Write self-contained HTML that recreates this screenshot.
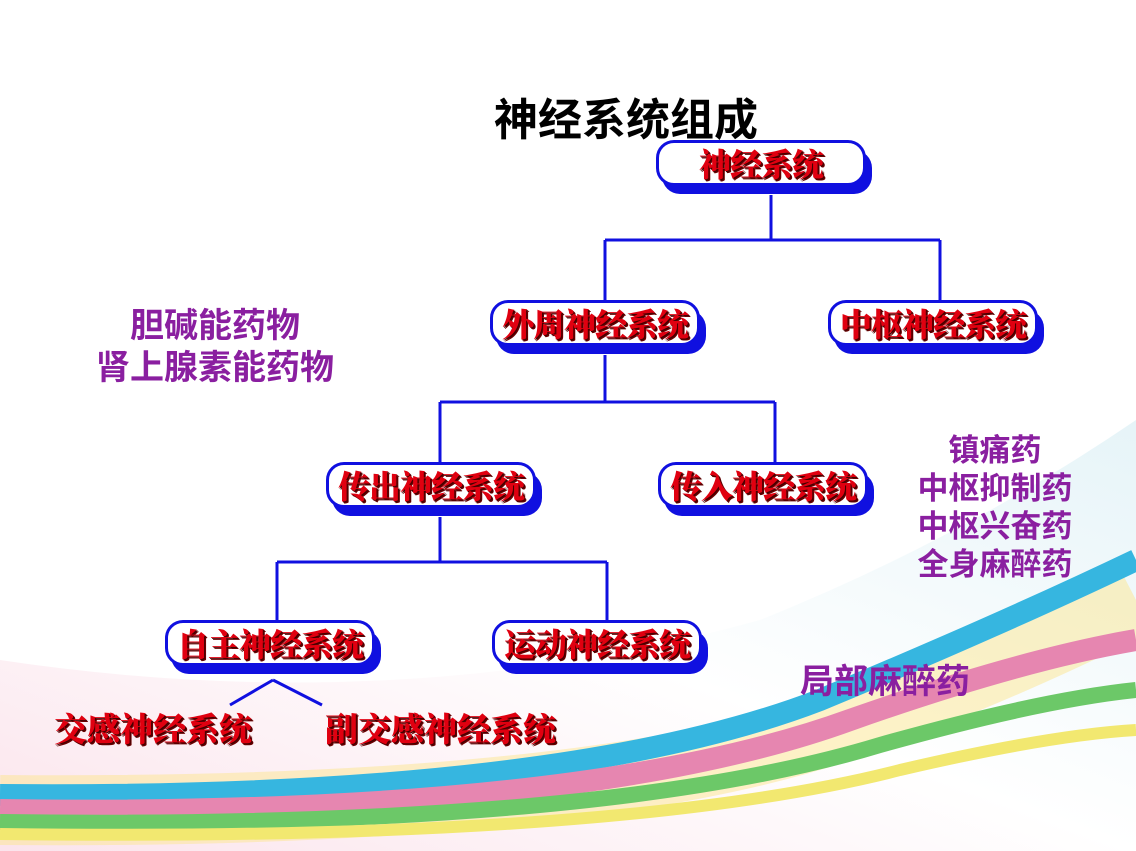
<!DOCTYPE html>
<html><head><meta charset="utf-8"><style>
body{margin:0;width:1136px;height:851px;overflow:hidden;background:#fff;position:relative;font-family:"Liberation Sans","Noto Sans CJK SC",sans-serif}
.bx{position:absolute;width:210px;height:44px}
.bx .sh{position:absolute;left:6px;top:10px;width:210px;height:44px;background:#1010e0;border-radius:18px}
.bx .fr{position:absolute;left:0;top:0;width:204px;height:40px;background:#fff;border:3px solid #1010e0;border-radius:18px;text-align:center;line-height:40px;font-family:"Noto Serif CJK SC",serif;font-weight:900;font-size:32px;letter-spacing:-1px;color:#e00010;text-shadow:1px 1px 0 #400,2px 2px 0 #600;white-space:nowrap}
.t{position:absolute;font-weight:bold;color:#8a1fa0;font-size:34px;text-align:center;line-height:42px;white-space:nowrap}
.r{position:absolute;font-family:"Noto Serif CJK SC",serif;font-weight:900;font-size:33px;color:#e00010;text-shadow:1px 1px 0 #400,2px 2px 0 #600;white-space:nowrap}
</style></head><body>
<svg width="1136" height="851" style="position:absolute;left:0;top:0">
<defs><linearGradient id="bg" x1="0" y1="1" x2="1" y2="0"><stop offset="0" stop-color="#fbe4ec"/><stop offset="0.5" stop-color="#fff"/><stop offset="1" stop-color="#e6f4f8"/></linearGradient></defs>
<path d="M0 660 Q400 720 760 620 Q960 540 1136 420 L1136 851 L0 851Z" fill="url(#bg)"/>
<path d="M0 810 Q600 815 860 720 Q1020 660 1136 600" stroke="#fbe690" stroke-width="70" fill="none" opacity="0.5"/>
<path d="M0 795 Q560 800 820 700 Q1000 625 1136 560" stroke="#36b6e0" stroke-width="22" fill="none"/>
<path d="M0 810 Q580 818 850 720 Q1020 660 1136 640" stroke="#e686b0" stroke-width="22" fill="none"/>
<path d="M0 822 Q600 830 880 745 Q1040 700 1136 690" stroke="#6cc868" stroke-width="16" fill="none"/>
<path d="M0 834 Q620 842 900 770 Q1050 735 1136 730" stroke="#f2e870" stroke-width="12" fill="none"/>
<g stroke="#1010e0" stroke-width="3" fill="none">
<path d="M771 195V240M605 240H940M605 240V300M940 240V300"/>
<path d="M605 355V402M440 402H775M440 402V462M775 402V462"/>
<path d="M440 517V562M277 562H607M277 562V620M607 562V620"/>
<path d="M273 680L230 705M273 680L322 705"/>
</g>
</svg>
<div style="position:absolute;left:494px;top:84px;font-size:44px;font-weight:bold;color:#000;white-space:nowrap">神经系统组成</div>
<div class="bx" style="left:656px;top:140px"><div class="sh"></div><div class="fr">神经系统</div></div>
<div class="bx" style="left:490px;top:300px"><div class="sh"></div><div class="fr">外周神经系统</div></div>
<div class="bx" style="left:828px;top:300px"><div class="sh"></div><div class="fr">中枢神经系统</div></div>
<div class="bx" style="left:326px;top:462px"><div class="sh"></div><div class="fr">传出神经系统</div></div>
<div class="bx" style="left:658px;top:462px"><div class="sh"></div><div class="fr">传入神经系统</div></div>
<div class="bx" style="left:165px;top:620px"><div class="sh"></div><div class="fr">自主神经系统</div></div>
<div class="bx" style="left:492px;top:620px"><div class="sh"></div><div class="fr">运动神经系统</div></div>
<div class="r" style="left:54px;top:704px">交感神经系统</div>
<div class="r" style="left:325px;top:704px">副交感神经系统</div>
<div class="t" style="left:65px;top:305px;width:300px">胆碱能药物<br>肾上腺素能药物</div>
<div class="t" style="left:895px;top:432px;width:200px;font-size:31px;line-height:38px">镇痛药<br>中枢抑制药<br>中枢兴奋药<br>全身麻醉药</div>
<div class="t" style="left:785px;top:661px;width:200px">局部麻醉药</div>
</body></html>
